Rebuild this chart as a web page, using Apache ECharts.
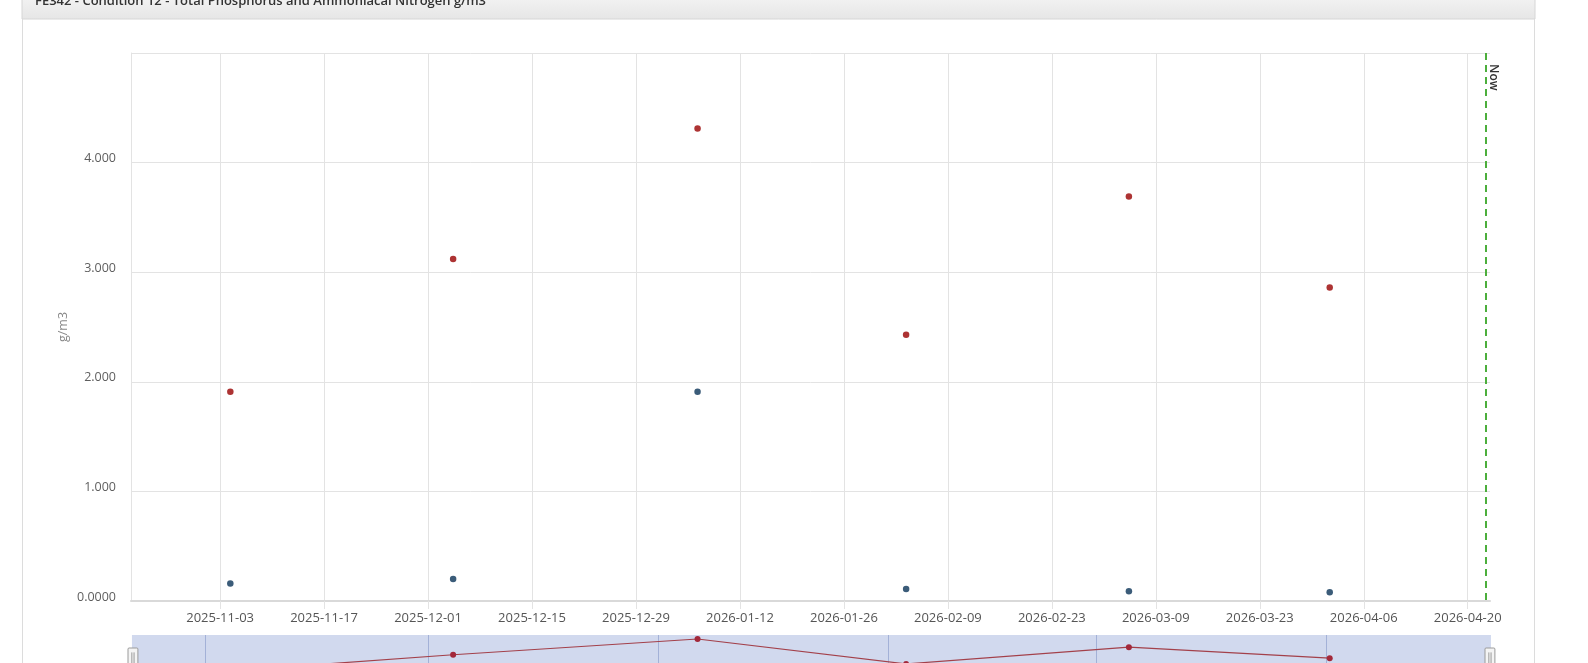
<!DOCTYPE html>
<html>
<head>
<meta charset="utf-8">
<style>
html,body{margin:0;padding:0;background:#fff;}
#chart{width:1588px;height:663px;}
</style>
<script src="https://cdn.jsdelivr.net/npm/echarts@6/dist/echarts.min.js"></script>
</head>
<body>
<div id="chart"></div>
<script>
var titleText = 'FE342 - Condition 12 - Total Phosphorus and Ammoniacal Nitrogen g/m3';
var sampleDates = ['2025-11-04T09:00', '2025-12-04T09:00', '2026-01-06T07:00', '2026-02-03T09:00', '2026-03-05T09:00', '2026-04-01T10:00'];
var ammoniacalNitrogen = [1.91, 3.12, 4.31, 2.43, 3.69, 2.86];
var totalPhosphorus = [0.16, 0.20, 1.91, 0.11, 0.09, 0.08];
var tickDates = ['2025-11-03', '2025-11-17', '2025-12-01', '2025-12-15', '2025-12-29', '2026-01-12', '2026-01-26', '2026-02-09', '2026-02-23', '2026-03-09', '2026-03-23', '2026-04-06', '2026-04-20'];
var monthStarts = ['2025-11-01', '2025-12-01', '2026-01-01', '2026-02-01', '2026-03-01', '2026-04-01'];
var axisStart = '2025-10-22';
var axisEnd = '2026-04-23';
var nowDate = '2026-04-22T10:00';
var yUnit = 'g/m3';

function ts(s) { return Date.parse(s.length <= 10 ? s + 'T00:00:00Z' : s + ':00Z'); }
function pad(n) { return (n < 10 ? '0' : '') + n; }
function fmtDate(v) { var d = new Date(v); return d.getUTCFullYear() + '-' + pad(d.getUTCMonth() + 1) + '-' + pad(d.getUTCDate()); }

var redData = sampleDates.map(function (d, i) { return [ts(d), ammoniacalNitrogen[i]]; });
var blueData = sampleDates.map(function (d, i) { return [ts(d), totalPhosphorus[i]]; });

var FONT = '"Open Sans", sans-serif';
var chart = echarts.init(document.getElementById('chart'), null, { renderer: 'canvas' });
chart.setOption({
  animation: false,
  backgroundColor: '#fff',
  title: {
    text: titleText, left: 35, top: -5, padding: 0,
    textStyle: { fontSize: 13, fontWeight: 600, color: '#333', fontFamily: FONT }
  },
  graphic: [
    { type: 'rect', z: -10, shape: { x: 22, y: -2, width: 1513, height: 21 },
      style: { fill: new echarts.graphic.LinearGradient(0, 0, 0, 1, [{ offset: 0, color: '#f2f2f2' }, { offset: 1, color: '#e6e6e6' }]), stroke: '#d6d6d6', lineWidth: 1 } },
    { type: 'line', z: -10, shape: { x1: 22.5, y1: 19, x2: 22.5, y2: 663 }, style: { stroke: '#dcdcdc', lineWidth: 1 } },
    { type: 'line', z: -10, shape: { x1: 1534.5, y1: 19, x2: 1534.5, y2: 663 }, style: { stroke: '#dcdcdc', lineWidth: 1 } }
  ],
  grid: [
    { left: 131, right: 98, top: 53, bottom: 62 },
    { left: 131, right: 98, top: 635, height: 28 }
  ],
  xAxis: [
    {
      type: 'value', gridIndex: 0, min: ts(axisStart), max: ts(axisEnd),
      axisLine: { show: true, lineStyle: { color: '#d9d9d9', width: 2 } },
      axisTick: { show: true, length: 8, lineStyle: { color: '#e3e3e3' }, customValues: tickDates.map(ts) },
      axisLabel: { customValues: tickDates.map(ts), formatter: fmtDate, color: '#555', fontSize: 13, fontFamily: FONT, margin: 11 },
      splitLine: { show: true, lineStyle: { color: '#e3e3e3', width: 1 } }
    },
    {
      type: 'value', gridIndex: 1, min: ts(axisStart), max: ts(axisEnd),
      axisLine: { show: false }, axisLabel: { show: false },
      axisTick: { show: false, customValues: monthStarts.map(ts) },
      splitLine: { show: true, lineStyle: { color: '#b9c3dc', width: 1 } }
    }
  ],
  yAxis: [
    {
      type: 'value', gridIndex: 0, min: 0, max: 5, interval: 1,
      name: yUnit, nameLocation: 'middle', nameGap: 61, nameMoveOverlap: false,
      nameTextStyle: { color: '#888', fontSize: 12.5, fontFamily: FONT },
      axisLine: { show: true, lineStyle: { color: '#e3e3e3' } },
      axisTick: { show: false },
      axisLabel: { showMaxLabel: false, color: '#5e5e5e', fontSize: 12.5, fontFamily: FONT, margin: 15, verticalAlign: 'bottom', lineHeight: 8,
        formatter: function (v) { return v === 0 ? '0.0000' : v.toFixed(3); } },
      splitLine: { show: true, lineStyle: { color: '#e3e3e3', width: 1 } }
    },
    {
      type: 'value', gridIndex: 1, min: 2.5, max: 4.61, show: false, splitLine: { show: false }
    }
  ],
  dataZoom: [{
    type: 'slider', xAxisIndex: 1, filterMode: 'none', start: 0, end: 100,
    left: 131, right: 98, top: 635, height: 48,
    showDataShadow: false, showDetail: false, brushSelect: false, moveHandleSize: 0,
    backgroundColor: 'rgba(0,0,0,0)', borderColor: 'rgba(0,0,0,0)',
    fillerColor: 'rgba(120,145,205,0.34)',
    handleIcon: 'path://M1,0H8A1,1,0,0,1,9,1V19A1,1,0,0,1,8,20H1A1,1,0,0,1,0,19V1A1,1,0,0,1,1,0Z M3.5,4V16 M5.5,4V16',
    handleSize: 22,
    handleStyle: { color: '#f4f4f4', borderColor: '#9a9a9a', borderWidth: 1 },
    emphasis: { handleStyle: { color: '#f4f4f4', borderColor: '#9a9a9a' } }
  }],
  series: [
    {
      name: 'Ammoniacal Nitrogen', type: 'scatter', xAxisIndex: 0, yAxisIndex: 0,
      data: redData, symbolSize: 6.5, itemStyle: { color: '#990000' },
      markLine: {
        silent: true, symbol: 'none',
        lineStyle: { color: '#4cae3c', type: [7, 5], width: 2 },
        label: { show: true, formatter: 'Now', position: 'insideStartTop', distance: [11, 2], color: '#333', fontSize: 12, fontWeight: 600, fontFamily: FONT },
        data: [[{ xAxis: ts(nowDate), yAxis: 5 }, { xAxis: ts(nowDate), yAxis: 0 }]]
      }
    },
    {
      name: 'Total Phosphorus', type: 'scatter', xAxisIndex: 0, yAxisIndex: 0,
      data: blueData, symbolSize: 6.5, itemStyle: { color: '#0a3358' }
    },
    {
      name: 'Ammoniacal Nitrogen overview', type: 'line', xAxisIndex: 1, yAxisIndex: 1, z: 6, clip: false,
      data: redData, symbol: 'circle', symbolSize: 6, showSymbol: true,
      lineStyle: { color: '#a3404a', width: 1.2 }, itemStyle: { color: '#a3283a' }
    }
  ]
});
</script>
</body>
</html>
